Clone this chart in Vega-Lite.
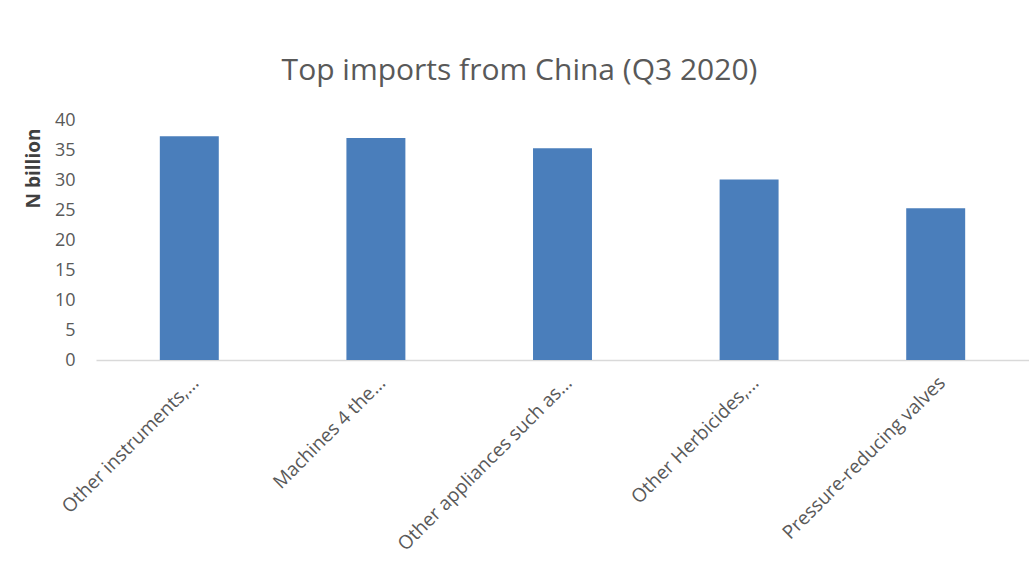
{
  "$schema": "https://vega.github.io/schema/vega-lite/v6.json",
  "autosize": {"type": "none"},
  "width": 933,
  "height": 240,
  "padding": {"left": 96, "top": 120, "right": 0, "bottom": 221},
  "background": "white",
  "config": {
    "view": {"stroke": null},
    "font": "Open Sans"
  },
  "title": {
    "text": "Top imports from China (Q3 2020)",
    "fontSize": 30,
    "font": "Open Sans",
    "fontWeight": "normal",
    "color": "#595959",
    "anchor": "middle",
    "dx": -43,
    "offset": 25
  },
  "data": {
    "values": [
      {"item": "Other instruments,...", "value": 37.3},
      {"item": "Machines 4 the...", "value": 37.0},
      {"item": "Other appliances such as...", "value": 35.3},
      {"item": "Other Herbicides,...", "value": 30.1},
      {"item": "Pressure-reducing valves", "value": 25.3}
    ]
  },
  "mark": {"type": "bar", "color": "#4a7ebb"},
  "encoding": {
    "x": {
      "field": "item",
      "type": "nominal",
      "sort": null,
      "scale": {"paddingInner": 0.684, "paddingOuter": 0.342},
      "axis": {
        "title": null,
        "labelAngle": -45,
        "labelAlign": "right",
        "labelBaseline": "top",
        "labelPadding": 13,
        "labelFontSize": 19,
        "labelColor": "#595959",
        "labelLimit": 400,
        "ticks": false,
        "domainColor": "#d9d9d9",
        "domainWidth": 1.5
      }
    },
    "y": {
      "field": "value",
      "type": "quantitative",
      "scale": {"domain": [0, 40], "nice": false},
      "axis": {
        "title": "N billion",
        "titleFontSize": 19,
        "titleFontWeight": "bold",
        "titleColor": "#404040",
        "titleAngle": -90,
        "titleAlign": "center",
        "titleBaseline": "middle",
        "titleX": -63,
        "titleY": 48,
        "values": [0, 5, 10, 15, 20, 25, 30, 35, 40],
        "labelFontSize": 18,
        "labelColor": "#595959",
        "labelPadding": 21,
        "ticks": false,
        "domain": false,
        "grid": false
      }
    }
  }
}
